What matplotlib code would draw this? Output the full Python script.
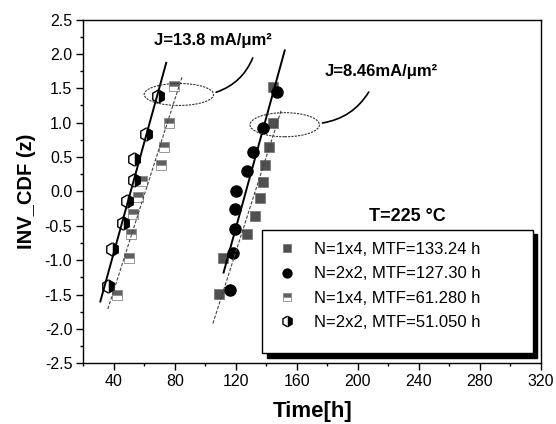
import matplotlib
matplotlib.use("Agg")
import matplotlib.pyplot as plt
from matplotlib.patches import Ellipse, Rectangle
from matplotlib.ticker import MultipleLocator, FormatStrFormatter

plt.rcParams["font.family"] = ["Liberation Sans", "DejaVu Sans"]

# measured failure times [h] and inverse-CDF values
t_1x4_hi = [109.2, 111.8, 127.4, 132.3, 135.6, 137.5, 139.1, 141.4, 144.3, 144.1]
z_1x4_hi = [-1.49, -0.97, -0.62, -0.36, -0.10, 0.13, 0.38, 0.65, 1.00, 1.52]

t_2x2_hi = [116.4, 117.9, 119.2, 119.7, 120.3, 127.3, 131.2, 137.8, 146.8]
z_2x2_hi = [-1.43, -0.90, -0.55, -0.26, 0.01, 0.29, 0.57, 0.92, 1.45]

t_1x4_lo = [42.0, 50.2, 51.5, 52.3, 55.8, 58.7, 70.6, 72.6, 76.0, 79.4]
z_1x4_lo = [-1.50, -0.97, -0.62, -0.33, -0.08, 0.15, 0.38, 0.65, 0.99, 1.53]

t_2x2_lo = [36.2, 38.6, 46.0, 48.3, 53.2, 53.5, 60.9, 68.6]
z_2x2_lo = [-1.38, -0.83, -0.46, -0.14, 0.16, 0.47, 0.83, 1.39]

labels = [
    "N=1x4, MTF=133.24 h",
    "N=2x2, MTF=127.30 h",
    "N=1x4, MTF=61.280 h",
    "N=2x2, MTF=51.050 h",
]

# fitted lines (end points)
fit_t_1x4_hi = [104.9, 149.7]
fit_z_1x4_hi = [-1.92, 1.18]
fit_t_2x2_hi = [111.9, 152.0]
fit_z_2x2_hi = [-1.18, 2.05]
fit_t_1x4_lo = [36.0, 84.8]
fit_z_1x4_lo = [-1.71, 1.675]
fit_t_2x2_lo = [31.1, 74.3]
fit_z_2x2_lo = [-1.60, 1.87]

fig = plt.figure(figsize=(5.56, 4.24), dpi=100)
ax = fig.add_axes([0.150, 0.143, 0.823, 0.811])

sq_hi = dict(marker="s", ms=6.5, mfc="#505050", mec="#707070", mew=0.5, ls="none")
ci_hi = dict(marker="o", ms=8, mfc="black", mec="black", ls="none")
sq_lo = dict(marker="s", ms=6.5, fillstyle="top", mfc="#606060", markerfacecoloralt="white",
             mec="#888888", mew=0.6, ls="none")
hx_lo = dict(marker="h", ms=9.5, fillstyle="right", mfc="black", markerfacecoloralt="white",
             mec="black", mew=1.0, ls="none")

h1, = ax.plot(t_1x4_hi, z_1x4_hi, label=labels[0], zorder=3, **sq_hi)
h2, = ax.plot(t_2x2_hi, z_2x2_hi, label=labels[1], zorder=3, **ci_hi)
h3, = ax.plot(t_1x4_lo, z_1x4_lo, label=labels[2], zorder=3, **sq_lo)
h4, = ax.plot(t_2x2_lo, z_2x2_lo, label=labels[3], zorder=3, **hx_lo)

dash = (0, (3, 1.5))
ax.plot(fit_t_1x4_hi, fit_z_1x4_hi, color="#444444", lw=0.8, ls=dash, zorder=4)
ax.plot(fit_t_1x4_lo, fit_z_1x4_lo, color="#444444", lw=0.8, ls=dash, zorder=4)
ax.plot(fit_t_2x2_hi, fit_z_2x2_hi, color="black", lw=1.4, zorder=4)
ax.plot(fit_t_2x2_lo, fit_z_2x2_lo, color="black", lw=1.4, zorder=4)

# dotted ellipses and callout curves
ax.add_patch(Ellipse((82.6, 1.41), 45.5, 0.32, fill=False, lw=0.8, ls=(0, (2, 1)), ec="#333333", zorder=5))
ax.add_patch(Ellipse((152.0, 0.97), 45.5, 0.35, fill=False, lw=0.8, ls=(0, (2, 1)), ec="#333333", zorder=5))
ax.annotate("", xy=(131.7, 1.98), xytext=(105.3, 1.43),
            arrowprops=dict(arrowstyle="-", lw=1.2, color="black", connectionstyle="arc3,rad=0.25"))
ax.annotate("", xy=(208.0, 1.48), xytext=(174.9, 0.99),
            arrowprops=dict(arrowstyle="-", lw=1.2, color="black", connectionstyle="arc3,rad=0.25"))

ax.text(66.5, 2.20, "J=13.8 mA/\u03bcm\u00b2", fontsize=12, fontweight="bold", va="center", ha="left")
ax.text(178.4, 1.74, "J=8.46mA/\u03bcm\u00b2", fontsize=12, fontweight="bold", va="center", ha="left")
ax.text(0.707, 0.426, "T=225 \u00b0C", transform=ax.transAxes, fontsize=13, fontweight="bold",
        va="center", ha="center")

# legend box with shadow
ax.add_patch(Rectangle((0.401, 0.017), 0.590, 0.358, transform=ax.transAxes, fc="black", ec="black",
                       zorder=6, clip_on=False))
ax.add_patch(Rectangle((0.391, 0.029), 0.591, 0.358, transform=ax.transAxes, fc="white", ec="black",
                       lw=1.0, zorder=7, clip_on=False))
leg = ax.legend(handles=[h1, h2, h3, h4], loc="upper left", bbox_to_anchor=(0.427, 0.352),
                frameon=False, fontsize=12, handlelength=1.0, handletextpad=1.1, labelspacing=0.55,
                borderpad=0, borderaxespad=0, numpoints=1, markerscale=0.8)
leg.set_zorder(8)

ax.set_xlim(20, 320)
ax.set_ylim(-2.5, 2.5)
ax.xaxis.set_major_locator(MultipleLocator(40))
ax.xaxis.set_minor_locator(MultipleLocator(20))
ax.yaxis.set_major_locator(MultipleLocator(0.5))
ax.yaxis.set_minor_locator(MultipleLocator(0.25))
ax.tick_params(which="major", direction="out", length=5, width=1, labelsize=11.5, pad=3)
ax.tick_params(which="minor", direction="out", length=2.5, width=1)
ax.tick_params(top=False, right=False)
ax.yaxis.set_major_formatter(FormatStrFormatter("%.1f"))
ax.xaxis.set_major_formatter(FormatStrFormatter("%d"))
for s in ax.spines.values():
    s.set_linewidth(1.0)

ax.set_xlabel("Time[h]", fontsize=16, fontweight="bold", labelpad=8)
ax.set_ylabel("INV_CDF (z)", fontsize=14.5, fontweight="bold", labelpad=6)

fig.savefig("out.png", dpi=100)
